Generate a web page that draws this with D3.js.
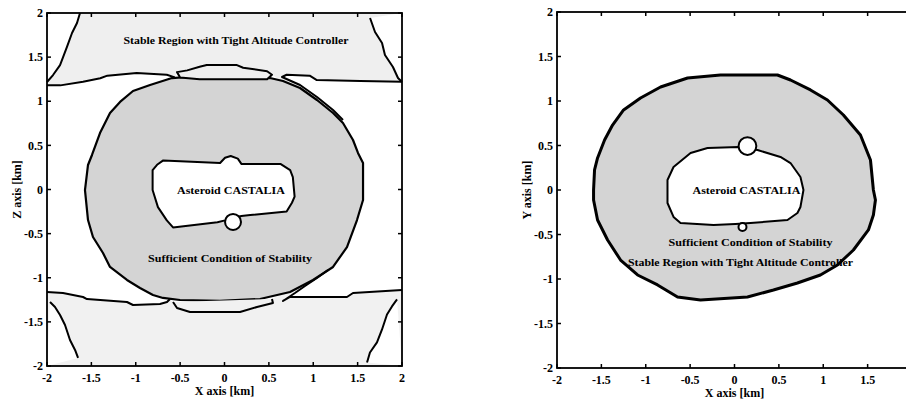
<!DOCTYPE html>
<html lang="en">
<head>
<meta charset="UTF-8">
<title>Castalia stability regions</title>
<script src="https://cdn.jsdelivr.net/npm/d3@7/dist/d3.min.js"></script>
<style>
  body { margin: 0; background: #fff; }
  svg text { font-family: "Liberation Serif", "Times New Roman", serif; fill: #000; }
  .tick-label { font-size: 12px; font-weight: bold; }
  .axis-title { font-size: 12px; font-weight: bold; }
  .region-label { font-size: 11px; font-weight: bold; }
  .frame { fill: none; stroke: #000; stroke-width: 1.8; }
  .contour { fill: none; stroke: #000; stroke-width: 2; stroke-linejoin: round; }
</style>
</head>
<body>
<svg id="chart" width="906" height="399"></svg>
<script>
var W = 906;
var ticks = [-2, -1.5, -1, -0.5, 0, 0.5, 1, 1.5, 2];
var tickText = ["-2", "-1.5", "-1", "-0.5", "0", "0.5", "1", "1.5", "2"];

// ---- left panel, X-Z plane (km), contours ----
var xzSufficient = [[-0.592,1.263],[-0.276,1.286],[0.175,1.286],[0.513,1.263],[0.659,1.229],[0.851,1.150],
  [1.042,1.014],[1.223,0.867],[1.335,0.754],[1.448,0.561],[1.504,0.414],[1.561,0.300],[1.561,-0.119],
  [1.493,-0.346],[1.380,-0.652],[1.223,-0.878],[0.997,-1.025],[0.738,-1.161],[0.400,-1.241],[-0.051,-1.263],
  [-0.501,-1.252],[-0.693,-1.229],[-0.806,-1.195],[-0.952,-1.116],[-1.099,-1.025],[-1.290,-0.878],
  [-1.369,-0.720],[-1.482,-0.538],[-1.538,-0.346],[-1.572,-0.006],[-1.538,0.278],[-1.493,0.391],
  [-1.403,0.640],[-1.290,0.867],[-1.177,0.992],[-1.031,1.116],[-0.839,1.184]];
var xzAsteroid = [[-0.69,0.33],[-0.05,0.30],[0.006,0.36],[0.07,0.38],[0.15,0.35],[0.19,0.29],[0.63,0.29],
  [0.74,0.22],[0.77,0.14],[0.79,-0.08],[0.76,-0.15],[0.70,-0.25],[0.29,-0.29],[0.19,-0.30],[0.006,-0.35],
  [-0.08,-0.37],[-0.58,-0.43],[-0.65,-0.35],[-0.75,-0.20],[-0.81,-0.006],[-0.81,0.22],[-0.76,0.28]];
var xzBumps = [[0.096,-0.368,0.09]];
var xzTopLeft = [[-2.0,1.18],[-1.85,1.18],[-1.594,1.22],[-1.40,1.26],[-1.32,1.29],[-0.99,1.32],[-0.65,1.30],[-0.56,1.27]];
var xzTopLobe = [[-0.535,1.33],[-0.42,1.35],[-0.28,1.39],[-0.20,1.41],[0.14,1.41],[0.21,1.38],[0.48,1.34],
  [0.535,1.30],[0.48,1.25],[-0.28,1.25],[-0.50,1.27]];
var xzTopRight = [[2.0,1.22],[1.53,1.23],[1.04,1.24],[0.96,1.29],[0.70,1.30],[0.648,1.275],[0.851,1.184],
  [1.042,1.048],[1.223,0.901],[1.335,0.788]];
var xzCornerTL = [[-2.0,1.218],[-1.932,1.297],[-1.853,1.41],[-1.775,1.615],[-1.718,1.773],[-1.662,1.887],[-1.628,2.0]];
var xzCornerTR = [[1.64,1.943],[1.696,1.785],[1.775,1.66],[1.808,1.524],[1.898,1.388],[1.955,1.263],[2.0,1.218]];
var xzBottomLeft = [[-2.0,-1.161],[-1.82,-1.173],[-1.594,-1.218],[-1.55,-1.241],[-1.099,-1.275],[-1.031,-1.309],
  [-0.727,-1.297],[-0.648,-1.275],[-0.614,-1.241]];
var xzBottomLobe = [[-0.58,-1.275],[-0.535,-1.343],[-0.389,-1.388],[0.175,-1.388],[0.366,-1.331],[0.546,-1.286],[0.535,-1.241]];
var xzBottomRight = [[2.0,-1.139],[1.448,-1.173],[1.38,-1.218],[0.738,-1.218],[0.659,-1.263],[0.794,-1.173],
  [0.907,-1.093],[1.042,-1.003],[1.166,-0.912]];
var xzCornerBL = [[-1.966,-1.275],[-1.91,-1.331],[-1.853,-1.422],[-1.797,-1.535],[-1.741,-1.705],[-1.684,-1.818],[-1.65,-1.909]];
var xzCornerBR = [[1.944,-1.246],[1.887,-1.325],[1.831,-1.416],[1.775,-1.586],[1.718,-1.733],[1.639,-1.847],[1.606,-1.96]];
var xzLabels = [
  {text: "Stable Region with Tight Altitude Controller", x: 0.13, z: 1.694},
  {text: "Asteroid CASTALIA", x: 0.073, z: -0.006},
  {text: "Sufficient Condition of Stability", x: 0.062, z: -0.776}
];

// ---- right panel, X-Y plane (km) ----
var xySufficient = [[-1.588,0],[-1.577,0.225],[-1.543,0.36],[-1.464,0.562],[-1.374,0.73],[-1.25,0.899],
  [-1.059,1.034],[-0.833,1.157],[-0.529,1.258],[-0.158,1.292],[0.484,1.292],[0.631,1.236],[0.856,1.124],
  [1.047,1.011],[1.227,0.843],[1.419,0.618],[1.532,0.337],[1.565,0],[1.588,-0.112],[1.565,-0.281],
  [1.509,-0.449],[1.34,-0.674],[1.16,-0.843],[0.968,-0.955],[0.709,-1.045],[0.439,-1.124],[0.146,-1.202],
  [-0.383,-1.236],[-0.642,-1.202],[-0.867,-1.067],[-1.092,-0.955],[-1.284,-0.787],[-1.43,-0.562],
  [-1.543,-0.337],[-1.588,-0.112]];
var xyAsteroid = [[-0.755,0.112],[-0.687,0.258],[-0.495,0.416],[-0.304,0.472],[0.045,0.483],[0.259,0.449],
  [0.518,0.371],[0.631,0.303],[0.743,0.146],[0.777,0],[0.743,-0.191],[0.709,-0.258],[0.597,-0.337],
  [0.18,-0.371],[0.011,-0.382],[-0.236,-0.393],[-0.608,-0.371],[-0.687,-0.303],[-0.755,-0.146]];
var xyBumps = [[0.146,0.494,0.10],[0.09,-0.416,0.045]];
var xyLabels = [
  {text: "Asteroid CASTALIA", x: 0.135, z: 0},
  {text: "Sufficient Condition of Stability", x: 0.18, z: -0.584},
  {text: "Stable Region with Tight Altitude Controller", x: 0.068, z: -0.809}
];

var labelWidth = {
  "Stable Region with Tight Altitude Controller": 225,
  "Asteroid CASTALIA": 108,
  "Sufficient Condition of Stability": 164
};

var svg = d3.select("#chart");

function panel(box, yTitle) {
  var x = d3.scaleLinear().domain([-2, 2]).range([box.left, box.right]);
  var y = d3.scaleLinear().domain([-2, 2]).range([box.bottom, box.top]);
  var g = svg.append("g");
  var line = d3.line().x(function(d){ return x(d[0]); }).y(function(d){ return y(d[1]); });
  return {g: g, x: x, y: y, line: line, box: box, yTitle: yTitle};
}

function area(p, pts, fill) {
  p.g.append("path").attr("d", p.line(pts) + "Z").attr("fill", fill).attr("stroke", "none");
}

function curve(p, pts, closed, width) {
  p.g.append("path").attr("class", "contour")
    .attr("d", p.line(pts) + (closed ? "Z" : ""))
    .style("stroke-width", width || 2);
}

function bumps(p, list) {
  list.forEach(function(b) {
    p.g.append("circle")
      .attr("cx", p.x(b[0])).attr("cy", p.y(b[1]))
      .attr("r", p.x(b[2]) - p.x(0))
      .attr("fill", "#fff").attr("stroke", "#000").attr("stroke-width", 2);
  });
}

function labels(p, list) {
  list.forEach(function(l) {
    p.g.append("text").attr("class", "region-label")
      .attr("x", p.x(l.x)).attr("y", p.y(l.z)).attr("dy", "0.35em")
      .attr("text-anchor", "middle")
      .attr("textLength", labelWidth[l.text]).attr("lengthAdjust", "spacingAndGlyphs")
      .text(l.text);
  });
}

function frame(p) {
  var b = p.box, g = p.g;
  g.append("rect").attr("class", "frame")
    .attr("x", b.left).attr("y", b.top)
    .attr("width", b.right - b.left).attr("height", b.bottom - b.top);
  ticks.forEach(function(t, i) {
    var tx = p.x(t), ty = p.y(t);
    g.append("line").attr("x1", tx).attr("x2", tx).attr("y1", b.bottom).attr("y2", b.bottom - 4).attr("stroke", "#000").attr("stroke-width", 1.5);
    g.append("line").attr("x1", tx).attr("x2", tx).attr("y1", b.top).attr("y2", b.top + 4).attr("stroke", "#000").attr("stroke-width", 1.5);
    g.append("line").attr("y1", ty).attr("y2", ty).attr("x1", b.left).attr("x2", b.left + 4).attr("stroke", "#000").attr("stroke-width", 1.5);
    g.append("line").attr("y1", ty).attr("y2", ty).attr("x1", b.right).attr("x2", b.right - 4).attr("stroke", "#000").attr("stroke-width", 1.5);
    // the scan is cut at the page edge: no label for a tick beyond it
    if (tx + 5 < W) {
      g.append("text").attr("class", "tick-label")
        .attr("x", tx).attr("y", b.bottom + 16).attr("text-anchor", "middle").text(tickText[i]);
    }
    g.append("text").attr("class", "tick-label")
      .attr("x", b.left - 4).attr("y", ty).attr("dy", "0.35em").attr("text-anchor", "end").text(tickText[i]);
  });
  g.append("text").attr("class", "axis-title")
    .attr("x", p.x(0)).attr("y", b.bottom + 29).attr("text-anchor", "middle").text("X axis [km]");
  g.append("text").attr("class", "axis-title")
    .attr("transform", "translate(" + (b.left - 26) + "," + p.y(0) + ") rotate(-90)")
    .attr("text-anchor", "middle").text(p.yTitle);
}

// left panel
var L = panel({left: 47, right: 402, top: 13, bottom: 366}, "Z axis [km]");
var topBand = [[-2, 2], [2, 2]].concat(xzTopRight, xzTopLobe.slice(0, 8).reverse(), xzTopLeft.slice().reverse());
var bottomBand = [[-2, -2], [2, -2]].concat(xzBottomRight, xzBottomLobe.slice().reverse(), xzBottomLeft.slice().reverse());
area(L, topBand, "#efefef");
area(L, bottomBand, "#f1f1f1");
area(L, [[-2, 2]].concat(xzCornerTL), "#fff");
area(L, [[2, 2]].concat(xzCornerTR), "#fff");
area(L, [[-2, -2]].concat(xzCornerBL), "#fff");
area(L, [[2, -2]].concat(xzCornerBR), "#fff");
area(L, xzSufficient, "#d4d4d4");
curve(L, xzSufficient, true, 2.2);
[xzTopLeft, xzTopRight, xzCornerTL, xzCornerTR, xzBottomLeft, xzBottomRight, xzCornerBL, xzCornerBR].forEach(function(c) {
  curve(L, c, false, 2);
});
area(L, xzTopLobe, "#efefef");
curve(L, xzTopLobe, true, 2);
area(L, xzBottomLobe, "#f1f1f1");
curve(L, xzBottomLobe, false, 2);
area(L, xzAsteroid, "#fff");
curve(L, xzAsteroid, true, 2);
bumps(L, xzBumps);
labels(L, xzLabels);
frame(L);

// right panel (runs past the right edge of the page, as in the scan)
var R = panel({left: 557, right: 912, top: 12, bottom: 368}, "Y axis [km]");
area(R, xySufficient, "#d4d4d4");
curve(R, xySufficient, true, 3);
area(R, xyAsteroid, "#fff");
curve(R, xyAsteroid, true, 2);
bumps(R, xyBumps);
labels(R, xyLabels);
frame(R);
</script>
</body>
</html>
